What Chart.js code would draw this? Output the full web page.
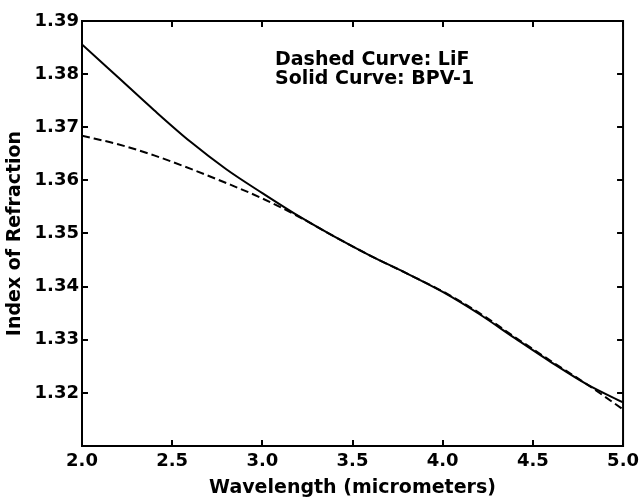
<!DOCTYPE html>
<html>
<head>
<meta charset="utf-8">
<script src="https://cdn.jsdelivr.net/npm/chart.js@4.4.1/dist/chart.umd.min.js"></script>
<style>
html,body{margin:0;padding:0;background:#fff;}
#wrap{width:644px;height:500px;}
</style>
</head>
<body>
<div id="wrap"><canvas id="c" width="644" height="500"></canvas></div>
<script>
// Data
const wavelength = [2.0, 2.2, 2.4, 2.6, 2.8, 3.0, 3.2, 3.4, 3.6, 3.8, 4.0, 4.2, 4.4, 4.6, 4.8, 5.0];
const bpv1 = [1.3856, 1.3794, 1.3732, 1.3673, 1.3621, 1.3576, 1.3533, 1.3494, 1.3458, 1.3425, 1.3390, 1.3349, 1.3303, 1.3258, 1.3216, 1.3182];
const lif  = [1.3684, 1.3668, 1.3647, 1.3622, 1.3595, 1.3566, 1.3532, 1.3494, 1.3458, 1.3425, 1.3391, 1.3351, 1.3305, 1.3260, 1.3216, 1.3169];
const xTicks = [2.0, 2.5, 3.0, 3.5, 4.0, 4.5, 5.0];
const yTicks = [1.32, 1.33, 1.34, 1.35, 1.36, 1.37, 1.38, 1.39];
const notes = ["Dashed Curve: LiF", "Solid Curve: BPV-1"];

const FONT = "'DejaVu Sans', 'Liberation Sans', Arial, sans-serif";

const boxPlugin = {
  id: 'boxTicks',
  afterDatasetsDraw(chart) {
    const ctx = chart.ctx;
    const a = chart.chartArea;
    const xs = chart.scales.x, ys = chart.scales.y;
    ctx.save();
    ctx.strokeStyle = '#000';
    ctx.lineWidth = 2;
    ctx.strokeRect(a.left, a.top, a.right - a.left, a.bottom - a.top);
    const L = 6;
    ctx.beginPath();
    xTicks.forEach(v => {
      const px = Math.round(xs.getPixelForValue(v));
      ctx.moveTo(px, a.bottom); ctx.lineTo(px, a.bottom - L);
      ctx.moveTo(px, a.top); ctx.lineTo(px, a.top + L);
    });
    yTicks.forEach(v => {
      const py = Math.round(ys.getPixelForValue(v));
      ctx.moveTo(a.left, py); ctx.lineTo(a.left + L, py);
      ctx.moveTo(a.right, py); ctx.lineTo(a.right - L, py);
    });
    ctx.stroke();
    // annotation text
    ctx.fillStyle = '#000';
    ctx.font = "bold 19px " + FONT;
    ctx.textAlign = 'left';
    ctx.textBaseline = 'alphabetic';
    ctx.fillText(notes[0], 275, 65);
    ctx.fillText(notes[1], 275, 84);
    ctx.restore();
  }
};

new Chart(document.getElementById('c'), {
  type: 'line',
  data: {
    datasets: [
      {
        label: 'BPV-1',
        data: wavelength.map((x, i) => ({x: x, y: bpv1[i]})),
        borderColor: '#000',
        borderWidth: 2,
        pointRadius: 0,
        fill: false,
        cubicInterpolationMode: 'monotone'
      },
      {
        label: 'LiF',
        data: wavelength.map((x, i) => ({x: x, y: lif[i]})),
        borderColor: '#000',
        borderWidth: 2,
        borderDash: [8, 4],
        pointRadius: 0,
        fill: false,
        cubicInterpolationMode: 'monotone'
      }
    ]
  },
  options: {
    responsive: false,
    animation: false,
    layout: {padding: {top: 21, right: 19, left: 0, bottom: 0}},
    plugins: {legend: {display: false}, tooltip: {enabled: false}},
    scales: {
      x: {
        type: 'linear',
        min: 2.0, max: 5.0,
        afterFit(s) { s.height = 54; },
        afterBuildTicks(s) { s.ticks = xTicks.map(v => ({value: v})); },
        grid: {display: false, drawTicks: false},
        border: {display: false},
        ticks: {
          color: '#000', padding: 5,
          font: {family: FONT, size: 18, weight: 'bold'},
          callback: v => Number(v).toFixed(1)
        },
        title: {
          display: true, text: 'Wavelength (micrometers)', color: '#000',
          font: {family: FONT, size: 19, weight: 'bold'},
          padding: {top: 0, bottom: 1}
        }
      },
      y: {
        type: 'linear',
        min: 1.31, max: 1.39,
        afterFit(s) { s.width = 82; },
        afterBuildTicks(s) { s.ticks = yTicks.map(v => ({value: v})); },
        grid: {display: false, drawTicks: false},
        border: {display: false},
        ticks: {
          color: '#000', padding: 3,
          font: {family: FONT, size: 18, weight: 'bold'},
          callback: v => Number(v).toFixed(2)
        },
        title: {
          display: true, text: 'Index of Refraction', color: '#000',
          font: {family: FONT, size: 19, weight: 'bold'},
          padding: {top: 4, bottom: 0}
        }
      }
    }
  },
  plugins: [boxPlugin]
});
</script>
</body>
</html>
